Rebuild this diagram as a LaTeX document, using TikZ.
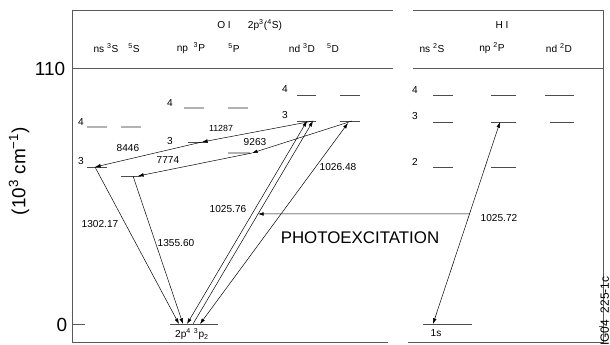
\documentclass[tikz,border=0pt]{standalone}
\usepackage{fontspec}
\setmainfont{Liberation Sans}
\usetikzlibrary{arrows.meta,calc}

\begin{document}
\begin{tikzpicture}[
  x=0.025cm, y=-0.025cm,
  every node/.style={font=\fontsize{7.2}{8}\selectfont, inner sep=0pt},
  frame/.style={line width=0.6pt, draw=black!65},
  lvl/.style={line width=0.55pt, draw=black!70},
  lvlgray/.style={line width=0.9pt, draw=black!30},
  trans/.style={-{Latex[length=4pt,width=2.6pt]}, line width=0.35pt},
  twoway/.style={{Latex[length=4pt,width=2.6pt]}-{Latex[length=4pt,width=2.6pt]}, line width=0.35pt},
  small/.style={font=\fontsize{6.3}{7}\selectfont},
  big/.style={font=\fontsize{13.5}{15}\selectfont}
]
\useasboundingbox (0,0) rectangle (610,344);

% frames
\draw[frame] (72,68) -- (393,68);
\draw[frame] (393,10) -- (72,10) -- (72,342) -- (388,342);
\draw[frame] (413,10) -- (603,10) -- (603,342) -- (408,342);
\draw[frame] (413,68) -- (603,68);
\draw[frame] (72,324) -- (85,324);
\draw[frame] (599,326) -- (603,326);

% axis
\node[big] (y110) at (50,69) {110};
\node[big] (y0) at (62,325) {0};
\node[big, rotate=90] (yunit) at (19,171) {(10\textsuperscript{3} cm\textsuperscript{−1})};
\node[font=\fontsize{8.5}{9}\selectfont, rotate=90, anchor=west] (figid) at (606,346) {IG04\_225-1c};

% headers
\node (oi) at (224,25) {O I};
\node (oconf) at (265,25) {2p\textsuperscript{3}(\textsuperscript{4}S)};
\node (hi) at (502,25) {H I};
\node (ns3S) at (106,48) {ns \textsuperscript{3}S};
\node (ns5S) at (134,48) {\textsuperscript{5}S};
\node (np3P) at (191,48) {np \ \textsuperscript{3}P};
\node (np5P) at (234,48) {\textsuperscript{5}P};
\node (nd3D) at (302,48) {nd \textsuperscript{3}D};
\node (nd5D) at (333,48) {\textsuperscript{5}D};
\node (ns2S) at (432,48) {ns \textsuperscript{2}S};
\node (np2P) at (492,48) {np \textsuperscript{2}P};
\node (nd2D) at (559,48) {nd \textsuperscript{2}D};

% O I levels
\node (n4s) at (81,122) {4};
\node (n3s) at (81,161) {3};
\node (n4p) at (170,103) {4};
\node (n3p) at (170,141) {3};
\node (n4d) at (285,89) {4};
\node (n3d) at (285,115) {3};
\draw[lvlgray] (87,127) -- (107,127) (121,127) -- (141,127);
\draw[lvlgray] (184,108) -- (204,108) (228,108) -- (248,108);
\draw[lvl] (87,167) -- (107,167);
\draw[lvl] (121,176) -- (141,176);
\draw[lvl] (188,142) -- (208,142);
\draw[lvlgray] (228,153) -- (250,153);
\draw[lvl] (297,95) -- (316,95) (340,95) -- (360,95);
\draw[lvl] (297,121) -- (316,121) (340,121) -- (360,121);
\draw[lvl] (170,324) -- (218,324);
\node (gnd) at (192,334) {2p\textsuperscript{4} \textsuperscript{3}p\textsubscript{2}};

% H I levels
\node (h4) at (415,90) {4};
\node (h3) at (415,116) {3};
\node (h2) at (415,162) {2};
\foreach \yy in {95,122,167} {
  \draw[lvl] (433,\yy) -- (453,\yy) (491,\yy) -- (516,\yy);
}
\draw[lvl] (545,95) -- (574,95) (550,122) -- (574,122);
\draw[lvl] (423,324) -- (472,324);
\node (h1s) at (436,333) {1s};

% transition end points
\coordinate (S3) at (95,167);
\coordinate (S5) at (138,176);
\coordinate (S5b) at (133,176);
\coordinate (P3) at (202,142);
\coordinate (P5) at (252,153);
\coordinate (D3a) at (307,121);
\coordinate (D3b) at (313,121);
\coordinate (D5) at (352,121);
\coordinate (D5b) at (348,123);
\coordinate (gA) at (179,324);
\coordinate (gB) at (183,324);
\coordinate (gC) at (187,324);
\coordinate (gD) at (193,324);
\coordinate (gE) at (200,324);
\coordinate (H3p) at (500,122);
\coordinate (H1s) at (433,324);
\coordinate (pumpfrom) at ($(H3p)!0.455!(H1s)$);
\coordinate (pumpto) at ($(gD)!0.542!(D3b)$);

% transitions
\draw[trans] (D3b) -- (P3);
\draw[trans] (P3) -- (S3);
\draw[trans] (D5) -- (P5);
\draw[trans] (P5) -- (S5);
\draw[trans] (S3) -- (gA);
\draw[trans] (S5b) -- (gB);
\draw[twoway] (gC) -- (D3a);
\draw[trans] (gD) -- (D3b);
\draw[twoway] (gE) -- (D5b);
\draw[twoway] (H1s) -- (H3p);
\draw[trans] (pumpfrom) -- (pumpto);

% wavelengths
\node (w8446) at (128,148) {8446};
\node[small] (w11287) at (221,128) {11287};
\node (w7774) at (168,160) {7774};
\node (w9263) at (255,142) {9263};
\node (w1302) at (100,224) {1302.17};
\node (w1355) at (176,243) {1355.60};
\node (w1025) at (228,209) {1025.76};
\node (w1026) at (338,167) {1026.48};
\node (wlyb) at (499,218) {1025.72};
\node[font=\fontsize{12}{14}\selectfont] (photo) at (360,238) {PHOTOEXCITATION};
\end{tikzpicture}
\end{document}
